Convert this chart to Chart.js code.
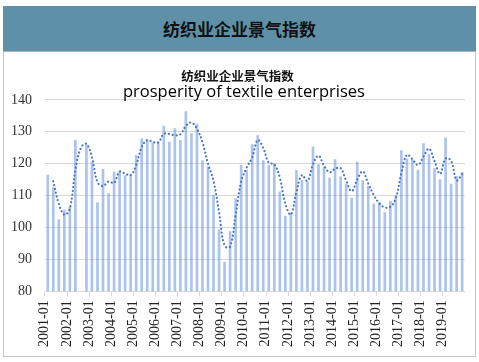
<!DOCTYPE html>
<html>
<head>
<meta charset="utf-8">
<script src="https://cdn.jsdelivr.net/npm/chart.js@4.4.1/dist/chart.umd.min.js"></script>
<style>
  body { margin: 0; background: #fff; overflow: hidden; }
  #head {
    position: absolute; left: 3px; top: 6px; width: 473px; height: 45px;
    background: #5e91a8; color: #111;
    font: bold 17px "Noto Sans CJK SC", sans-serif;
    text-align: center; line-height: 45px;
  }
  #box {
    position: absolute; left: 3px; top: 51px; width: 473px; height: 306px;
    box-sizing: border-box; border: 1px solid #c4c4c4; border-top-color: #b0b0b0;
  }
  #wrap { position: absolute; left: -8px; top: 52px; width: 491px; height: 304px; }
</style>
</head>
<body>
<div id="head">纺织业企业景气指数</div>
<div id="box"></div>
<div id="wrap"><canvas id="mycanvas"></canvas></div>
<script>
// quarterly, 2001-01 .. 2019-10
var years = [2001, 2002, 2003, 2004, 2005, 2006, 2007, 2008, 2009, 2010,
             2011, 2012, 2013, 2014, 2015, 2016, 2017, 2018, 2019];
var months = ['01', '04', '07', '10'];

// index value (bars)
var index = [
  116.4, 112.5, 102.5, 105.5, 106.5, 127.3, null, 125.9, 120.5, 107.8,
  118.2, 110.6, 117.4, 117.5, 116.3, 116.4, 122.6, 127.8, 127.0, 126.5,
  126.8, 131.8, 126.8, 131.0, 127.3, 136.3, 129.4, 132.4, 121.0, 119.0,
  110.2, 99.3, 89.2, 98.7, 109.0, 119.5, 118.0, 126.0, 128.8, 121.0,
  119.5, 120.0, 111.2, 103.6, 104.5, 117.9, 114.8, 114.3, 125.2, 119.7,
  119.0, 115.5, 121.3, 115.9, 113.5, 109.2, 120.5, 114.7, 112.9, 107.4,
  107.8, 104.7, 108.3, 110.0, 124.1, 121.5, 121.2, 118.0, 126.3, 123.0,
  118.5, 115.0, 128.1, 113.6, 116.0, 117.3
];

// dotted trend line
var trend = [
  null, 114.5, 107.5, 104.0, 106.0, 118.0, 125.0, 126.2, 122.0, 114.2,
  113.0, 114.4, 114.0, 117.5, 116.9, 116.4, 119.5, 125.2, 127.4, 126.8,
  126.7, 129.3, 129.3, 128.9, 129.2, 131.8, 132.9, 130.9, 126.7, 120.0,
  114.6, 104.8, 94.3, 94.0, 103.9, 114.3, 118.8, 122.0, 127.4, 124.9,
  120.3, 119.8, 115.6, 107.4, 104.1, 111.2, 116.4, 114.6, 119.8, 122.5,
  119.4, 117.3, 118.4, 118.6, 114.7, 111.4, 114.9, 117.6, 113.8, 110.2,
  107.6, 106.3, 106.5, 109.2, 117.1, 122.8, 121.4, 119.6, 122.2, 124.7,
  120.8, 116.8, 121.6, 120.9, 114.8, 116.7
];

var yTicks = [80, 90, 100, 110, 120, 130, 140];

var labels = [];
for (var y = 0; y < years.length; y++) {
  for (var m = 0; m < months.length; m++) {
    labels.push(years[y] + '-' + months[m]);
  }
}

var gridGray = '#d9d9d9';
var serif = 'Liberation Serif';

var ctx = document.getElementById('mycanvas');
var chart = new Chart(ctx, {
  type: 'bar',
  data: {
    labels: labels,
    datasets: [
      {
        type: 'line',
        data: trend,
        borderColor: '#4a76c6',
        borderWidth: 2.2,
        borderDash: [0.1, 3.8],
        borderCapStyle: 'round',
        pointRadius: 0,
        tension: 0.4,
        spanGaps: true,
        fill: false,
        order: 0
      },
      {
        data: index,
        backgroundColor: 'rgba(110, 152, 224, 0.58)',
        barThickness: 2,
        order: 1
      }
    ]
  },
  options: {
    responsive: true,
    maintainAspectRatio: false,
    animation: false,
    layout: { padding: { left: 6, right: 6, bottom: 5, top: 0 } },
    plugins: {
      legend: { display: false },
      tooltip: { enabled: false },
      title: {
        display: true,
        text: '纺织业企业景气指数',
        color: '#111',
        font: { family: '"Noto Sans CJK SC", sans-serif', size: 12.5, weight: 'bold', lineHeight: 1.2 },
        padding: { top: 17, bottom: 1 }
      },
      subtitle: {
        display: true,
        text: '   prosperity of textile enterprises',
        color: '#000',
        font: { family: '"Open Sans", sans-serif', size: 16.5, lineHeight: 0.9 },
        padding: { top: 0, bottom: 0 }
      }
    },
    scales: {
      x: {
        offset: true,
        border: { display: true, color: gridGray, width: 1 },
        grid: {
          offset: true,
          drawOnChartArea: false,
          drawTicks: true,
          tickLength: 5,
          tickColor: function(c) { return c.index % 4 === 0 ? gridGray : 'rgba(0,0,0,0)'; }
        },
        ticks: {
          autoSkip: false,
          minRotation: 90,
          maxRotation: 90,
          padding: 4,
          labelOffset: -3,
          color: '#222',
          font: { family: serif, size: 14 },
          callback: function(value, i) { return i % 4 === 0 ? this.getLabelForValue(value) : ''; }
        }
      },
      y: {
        min: yTicks[0],
        max: yTicks[yTicks.length - 1],
        border: { display: false },
        grid: { color: gridGray, drawTicks: false },
        afterBuildTicks: function(axis) {
          axis.ticks = yTicks.map(function(v) { return { value: v }; });
        },
        ticks: {
          padding: 13,
          color: '#333',
          font: { family: serif, size: 14 }
        }
      }
    }
  }
});
</script>
</body>
</html>
